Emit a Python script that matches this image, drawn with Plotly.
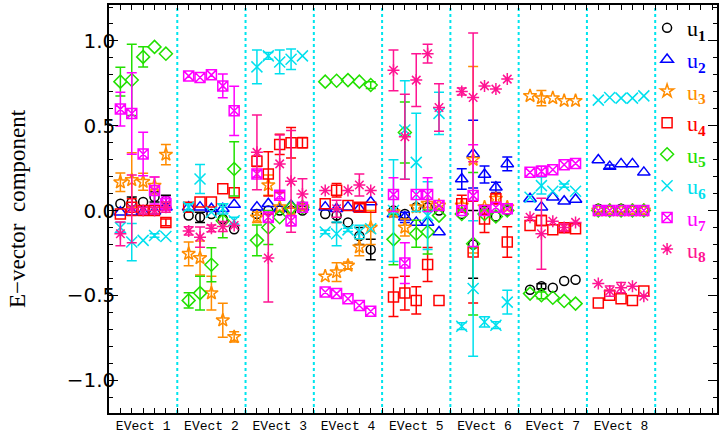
import numpy as np
import plotly.graph_objects as go

# ---------------- data ----------------
evect_labels = ["EVect 1", "EVect 2", "EVect 3", "EVect 4",
                "EVect 5", "EVect 6", "EVect 7", "EVect 8"]
n_per_block = 5

u1 = [0.04, 0.05, 0.05, 0.08, 0.06,
      -0.03, -0.04, -0.02, -0.05, -0.11,
      -0.02, 0.0, 0.0, 0.0, 0.0,
      -0.02, -0.03, -0.07, -0.15, -0.23,
      0.0, -0.02, 0.02, 0.02, 0.0,
      -0.02, -0.2, 0.0, -0.035, 0.0,
      -0.467, -0.447, -0.455, -0.416, -0.408,
      0.01, 0.0, 0.01, 0.0, 0.0]
u1_err = [0, 0.03, 0, 0.03, 0.03,
          0, 0.03, 0, 0, 0,
          0, 0, 0, 0, 0,
          0, 0.04, 0, 0.05, 0.06,
          0, 0, 0, 0, 0,
          0, 0.2, 0, 0, 0,
          0, 0.015, 0, 0, 0,
          0, 0, 0, 0, 0]

u2 = [-0.01, -0.01, -0.01, -0.005, 0.02,
      0.02, 0.02, 0.01, 0.01, 0.035,
      0.02, 0.04, 0.01, 0.03, 0.02,
      0.02, 0.01, 0.02, 0.01, 0.05,
      -0.02, -0.04, -0.07, -0.07, -0.127,
      0.186, 0.333, 0.212, 0.137, 0.275,
      0.069, 0.02, 0.078, 0.055, 0.065,
      0.298, 0.259, 0.275, 0.275, 0.225]
u2_err = [0, 0, 0, 0, 0,
          0, 0, 0, 0, 0,
          0, 0, 0, 0, 0,
          0, 0, 0, 0, 0,
          0, 0.03, 0, 0, 0,
          0.06, 0.2, 0.05, 0.03, 0.04,
          0, 0, 0, 0, 0,
          0, 0.01, 0, 0, 0]

u3 = [0.167, 0.18, 0.17, 0.147, 0.33,
      -0.255, -0.28, -0.487, -0.647, -0.745,
      -0.04, 0.15, 0.02, 0.0, 0.02,
      -0.388, -0.363, -0.324, -0.216, -0.1,
      -0.01, -0.1, 0.02, 0.04, 0.03,
      0.03, 0.3, 0.02, 0.07, 0.02,
      0.676, 0.663, 0.663, 0.647, 0.647,
      0.0, 0.0, 0.0, 0.0, 0.0]
u3_err = [0.055, 0.16, 0.05, 0.05, 0.06,
          0.07, 0.1, 0.1, 0.1, 0.03,
          0.03, 0.06, 0, 0, 0,
          0, 0.055, 0.02, 0.05, 0.1,
          0, 0.05, 0, 0, 0,
          0, 0.55, 0, 0.03, 0,
          0, 0.045, 0, 0, 0,
          0, 0, 0, 0, 0]

u4 = [-0.02, 0.02, 0.0, 0.0, -0.07,
      0.02, 0.05, 0.05, 0.128, 0.105,
      0.29, 0.216, 0.39, 0.4, 0.4,
      0.04, 0.12, 0.03, 0.02, 0.02,
      -0.51, -0.487, -0.53, -0.318, -0.53,
      0.04, -0.245, -0.05, 0.07, -0.186,
      -0.088, -0.059, -0.114, -0.102, -0.108,
      -0.545, -0.5, -0.52, -0.53, -0.475]
u4_err = [0, 0.05, 0, 0, 0.02,
          0, 0, 0, 0, 0,
          0.03, 0.13, 0.06, 0.09, 0.03,
          0, 0.04, 0, 0.02, 0,
          0.115, 0.1, 0.08, 0.1, 0,
          0.05, 0.3, 0.08, 0.03, 0.09,
          0, 0.03, 0, 0.02, 0,
          0, 0, 0, 0, 0]

u5 = [0.76, 0.77, 0.906, 0.965, 0.925,
      -0.53, -0.487, -0.32, -0.06, 0.245,
      -0.176, -0.1, -0.04, 0.016, 0.02,
      0.76, 0.765, 0.769, 0.76, 0.74,
      -0.17, 0.46, -0.137, -0.127, -0.03,
      -0.02, -0.196, -0.02, -0.035, 0.0,
      -0.49, -0.5, -0.514, -0.533, -0.549,
      0.0, 0.0, 0.0, 0.0, 0.0]
u5_err = [0.085, 0.21, 0.06, 0, 0,
          0.045, 0.1, 0.1, 0.1, 0.16,
          0.09, 0.1, 0, 0, 0,
          0, 0, 0, 0, 0.02,
          0.15, 0.18, 0.08, 0.13, 0,
          0, 0.42, 0, 0, 0,
          0, 0.02, 0, 0, 0,
          0, 0, 0, 0, 0]

u6 = [-0.1, -0.186, -0.176, -0.147, -0.153,
      0.02, 0.186, -0.01, 0.01, -0.06,
      0.847, 0.912, 0.876, 0.892, 0.912,
      -0.127, -0.137, -0.114, -0.127, -0.108,
      0.0, 0.475, 0.284, -0.03, 0.573,
      -0.682, -0.46, -0.657, -0.676, -0.54,
      0.078, 0.147, 0.114, 0.147, 0.114,
      0.651, 0.667, 0.663, 0.663, 0.676]
u6_err = [0.03, 0.11, 0, 0.01, 0,
          0.02, 0.085, 0, 0.03, 0.02,
          0.1, 0.02, 0.07, 0.06, 0,
          0.01, 0.07, 0.01, 0.04, 0,
          0.3, 0.29, 0.29, 0.2, 0.125,
          0.02, 0.4, 0.03, 0.02, 0.07,
          0, 0.05, 0, 0.01, 0,
          0, 0, 0, 0, 0]

u7 = [0.598, 0.572, 0.333, 0.118, 0.04,
      0.794, 0.784, 0.8, 0.735, 0.588,
      0.216, -0.04, 0.09, -0.06, 0.02,
      -0.48, -0.49, -0.52, -0.56, -0.594,
      0.094, -0.31, 0.094, 0.094, 0.03,
      0.0, 0.088, 0.0, 0.02, 0.01,
      0.225, 0.231, 0.241, 0.27, 0.278,
      0.0, 0.0, 0.0, 0.0, 0.0]
u7_err = [0.1, 0.24, 0.128, 0.08, 0.04,
          0, 0, 0, 0.07, 0.145,
          0.02, 0.03, 0.02, 0.03, 0,
          0, 0, 0, 0, 0,
          0.1, 0.12, 0, 0.1, 0,
          0, 0.3, 0, 0, 0,
          0, 0.03, 0, 0, 0,
          0, 0, 0, 0, 0]

u8 = [-0.137, 0.01, 0.0, 0.0, 0.02,
      -0.12, -0.157, -0.105, -0.094, -0.088,
      0.343, -0.28, 0.275, 0.172, 0.098,
      0.118, 0.01, 0.118, 0.15, 0.118,
      0.827, 0.435, 0.769, 0.925, 0.608,
      0.702, 0.667, 0.735, 0.716, 0.775,
      -0.04, -0.137, -0.063, -0.1, -0.07,
      -0.43, -0.475, -0.455, -0.447, -0.506]
u8_err = [0.07, 0.2, 0.02, 0.02, 0.03,
          0.025, 0.06, 0.02, 0.03, 0,
          0.22, 0.26, 0.17, 0.3, 0.09,
          0, 0.05, 0, 0.065, 0,
          0.12, 0.25, 0.155, 0.055, 0.14,
          0.02, 0.38, 0, 0, 0,
          0, 0.21, 0, 0.02, 0,
          0, 0.03, 0.03, 0, 0]

series = [
    ("1", u1, u1_err, "circle-open", "#000000", 9),
    ("2", u2, u2_err, "triangle-up-open", "#0000FF", 11),
    ("3", u3, u3_err, "star-open", "#FF8C00", 10),
    ("4", u4, u4_err, "square-open", "#FF0000", 10),
    ("5", u5, u5_err, "diamond-open", "#22E000", 10),
    ("6", u6, u6_err, "x-thin-open", "#00E0EE", 11),
    ("7", u7, u7_err, "square-x-open", "#FF00FF", 10),
    ("8", u8, u8_err, "asterisk-open", "#FF1493", 10),
]

# x position of each point: block index plus offset inside the block
n_blocks = len(evect_labels)
blk = np.repeat(np.arange(1, n_blocks + 1), n_per_block)
off = np.tile((np.arange(n_per_block) - 2) / 6.0, n_blocks)
xpos = blk + off

fig = go.Figure()
for idx, vals, errs, sym, col, size in series:
    vals = np.asarray(vals, float)
    errs = np.asarray(errs, float)
    has = errs > 0
    name = (f"<span style='color:{col}'>u<sub><b>{idx}</b></sub></span>")
    fig.add_trace(go.Scatter(
        x=xpos[has], y=vals[has], mode="markers", name=name,
        legendgroup=idx, showlegend=False,
        marker=dict(symbol=sym, color=col, size=size, line=dict(width=1.5, color=col)),
        error_y=dict(type="data", array=errs[has], visible=True,
                     color=col, thickness=1.5, width=5),
    ))
    fig.add_trace(go.Scatter(
        x=xpos[~has], y=vals[~has], mode="markers", name=name,
        legendgroup=idx, showlegend=True,
        marker=dict(symbol=sym, color=col, size=size, line=dict(width=1.5, color=col)),
    ))

shapes = []
for b in range(1, n_blocks + 1):
    shapes.append(dict(type="line", xref="x", yref="paper",
                       x0=b + 0.5, x1=b + 0.5, y0=0, y1=1,
                       line=dict(color="#00E5EE", width=2, dash="dot"), layer="below"))

fig.update_layout(
    width=719, height=434,
    margin=dict(l=109, r=2, t=5, b=21, autoexpand=False),
    paper_bgcolor="white", plot_bgcolor="white",
    shapes=shapes,
    showlegend=True,
    legend=dict(x=0.885, xanchor="left", y=0.995, yanchor="top",
                font=dict(family="Liberation Serif", size=22, color="black"),
                bgcolor="rgba(0,0,0,0)", borderwidth=0, tracegroupgap=0,
                itemwidth=30),
    xaxis=dict(range=[0.5, 9.405], showgrid=False, zeroline=False,
               showline=True, linecolor="black", linewidth=1.5, mirror="allticks",
               tickmode="array", tickvals=list(range(1, n_blocks + 1)),
               ticktext=evect_labels, ticks="inside", ticklen=5, tickcolor="black",
               tickfont=dict(family="Liberation Mono", size=13, color="black"),
               minor=dict(dtick=1 / 6, tick0=0.5, ticks="inside", ticklen=5,
                          tickcolor="black", showgrid=False)),
    yaxis=dict(range=[-1.194, 1.212], showgrid=False, zeroline=False,
               showline=True, linecolor="black", linewidth=1.5, mirror="allticks",
               tickmode="linear", tick0=0, dtick=0.5, tickformat=".1f",
               ticks="inside", ticklen=9, tickcolor="black",
               ticklabelstandoff=-12,
               tickfont=dict(family="DejaVu Sans", size=20, color="black"),
               minor=dict(dtick=0.1, ticks="inside", ticklen=4,
                          tickcolor="black", showgrid=False)),
    annotations=[dict(text="E\u2212vector  component", xref="paper", yref="paper",
                      x=0, y=0.5, xshift=-92, textangle=-90, showarrow=False,
                      xanchor="center", yanchor="middle",
                      font=dict(family="Liberation Serif", size=23, color="black"))],
)

fig.write_html("out.html", config={"displayModeBar": False})

# remove the default page margin so the figure sits at the window origin
with open("out.html", "r", encoding="utf-8") as f:
    html = f.read()
html = html.replace("<head>", "<head><style>html,body{margin:0;padding:0;}</style>", 1)
with open("out.html", "w", encoding="utf-8") as f:
    f.write(html)
